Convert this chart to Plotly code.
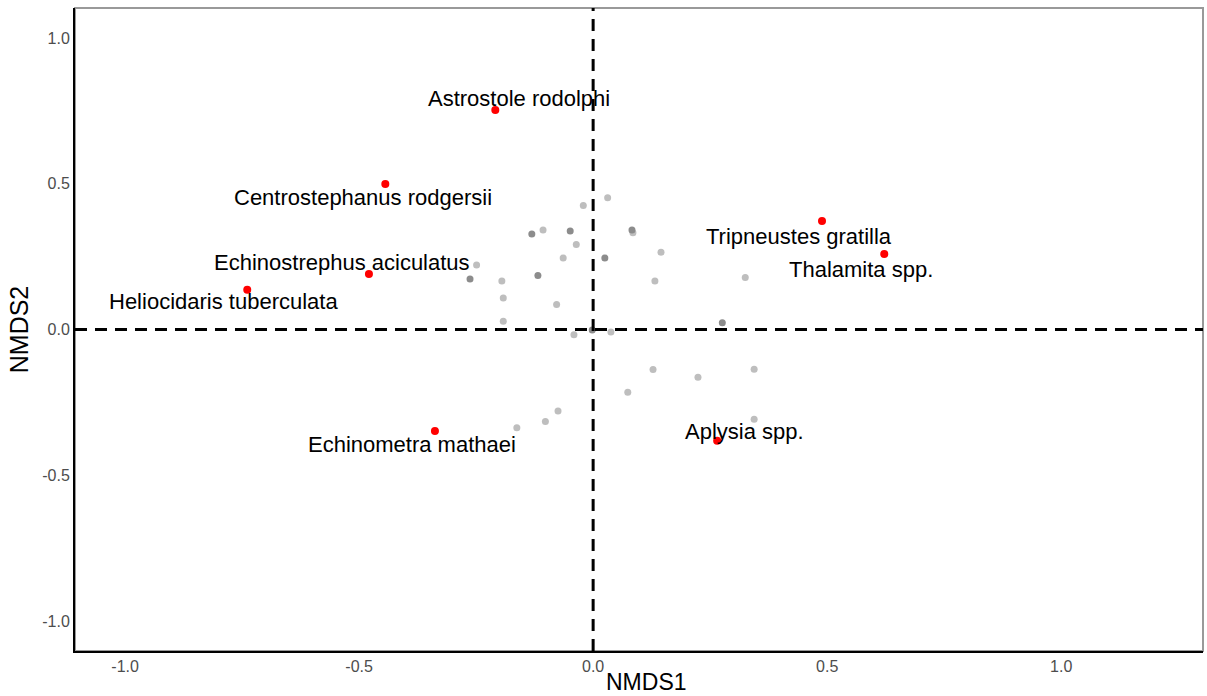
import plotly.graph_objects as go

# Species (red) scores
species = ["Astrostole rodolphi", "Centrostephanus rodgersii", "Echinostrephus aciculatus",
           "Heliocidaris tuberculata", "Echinometra mathaei", "Aplysia spp.",
           "Tripneustes gratilla", "Thalamita spp."]
sp_x = [-0.209, -0.444, -0.479, -0.739, -0.338, 0.265, 0.489, 0.622]
sp_y = [0.753, 0.499, 0.190, 0.136, -0.348, -0.382, 0.372, 0.259]

# Site scores (grey)
site_x = [0.031, -0.021, -0.107, -0.036, 0.085, 0.145, -0.064, -0.249, -0.195, -0.192,
          -0.078, 0.132, 0.325, -0.192, 0.038, -0.041, 0.128, 0.074, 0.224, 0.344,
          0.344, -0.075, -0.102, -0.163]
site_y = [0.452, 0.425, 0.341, 0.292, 0.332, 0.265, 0.245, 0.221, 0.166, 0.108,
          0.086, 0.166, 0.178, 0.028, -0.009, -0.018, -0.137, -0.215, -0.164, -0.136,
          -0.308, -0.280, -0.316, -0.337]
# Overlapping (darker) site scores
dark_x = [-0.131, -0.049, 0.083, 0.025, -0.263, -0.118, 0.276, -0.002]
dark_y = [0.328, 0.338, 0.341, 0.245, 0.173, 0.185, 0.023, -0.002]

# label offsets in pixels (dx right, dy down)
label_dx = [24, -22, -27, -24, -23, 27, -23, -23]
label_dy = [-12, 13, -12, 12, 14, -9, 15, 15]

FONT = "Liberation Sans, Arial, sans-serif"

fig = go.Figure()
fig.add_trace(go.Scatter(x=site_x, y=site_y, mode="markers",
                         marker=dict(color="#BEBEBE", size=7), hoverinfo="skip", showlegend=False))
fig.add_trace(go.Scatter(x=dark_x, y=dark_y, mode="markers",
                         marker=dict(color="#8C8C8C", size=7), hoverinfo="skip", showlegend=False))
fig.add_trace(go.Scatter(x=sp_x, y=sp_y, mode="markers", text=species,
                         marker=dict(color="#FF0000", size=8), showlegend=False))

for name, x, y, dx, dy in zip(species, sp_x, sp_y, label_dx, label_dy):
    fig.add_annotation(x=x, y=y, text=name, showarrow=False, xshift=dx, yshift=-dy,
                       font=dict(family=FONT, size=22, color="black"))

fig.add_hline(y=0, line=dict(color="black", width=3, dash="12px,8px"))
fig.add_vline(x=0, line=dict(color="black", width=3, dash="12px,8px"))

# panel border (grey top/right)
fig.add_shape(type="rect", xref="paper", yref="paper", x0=0, x1=1, y0=0, y1=1,
              line=dict(color="#999999", width=2), layer="below")

# x-axis title
fig.add_annotation(xref="paper", yref="paper", x=0.5, y=0, yanchor="bottom", yshift=-45, xshift=7,
                   text="NMDS1", showarrow=False, borderpad=0,
                   font=dict(family=FONT, size=23, color="black"))

axis_common = dict(showgrid=False, zeroline=False, showline=True, linecolor="black", linewidth=2,
                   ticks="", ticklen=0, automargin=False,
                   tickfont=dict(family=FONT, size=16, color="#4D4D4D"),
                   tickvals=[-1.0, -0.5, 0.0, 0.5, 1.0], ticktext=["-1.0", "-0.5", "0.0", "0.5", "1.0"])

fig.update_layout(
    width=1207, height=696,
    paper_bgcolor="white", plot_bgcolor="white",
    margin=dict(l=75, r=4, t=8, b=45),
    xaxis=dict(range=[-1.107, 1.303], **axis_common),
    yaxis=dict(range=[-1.103, 1.103], title=dict(text="NMDS2", font=dict(family=FONT, size=25, color="black"), standoff=6),
               **axis_common),
)

fig.write_html("out.html")
